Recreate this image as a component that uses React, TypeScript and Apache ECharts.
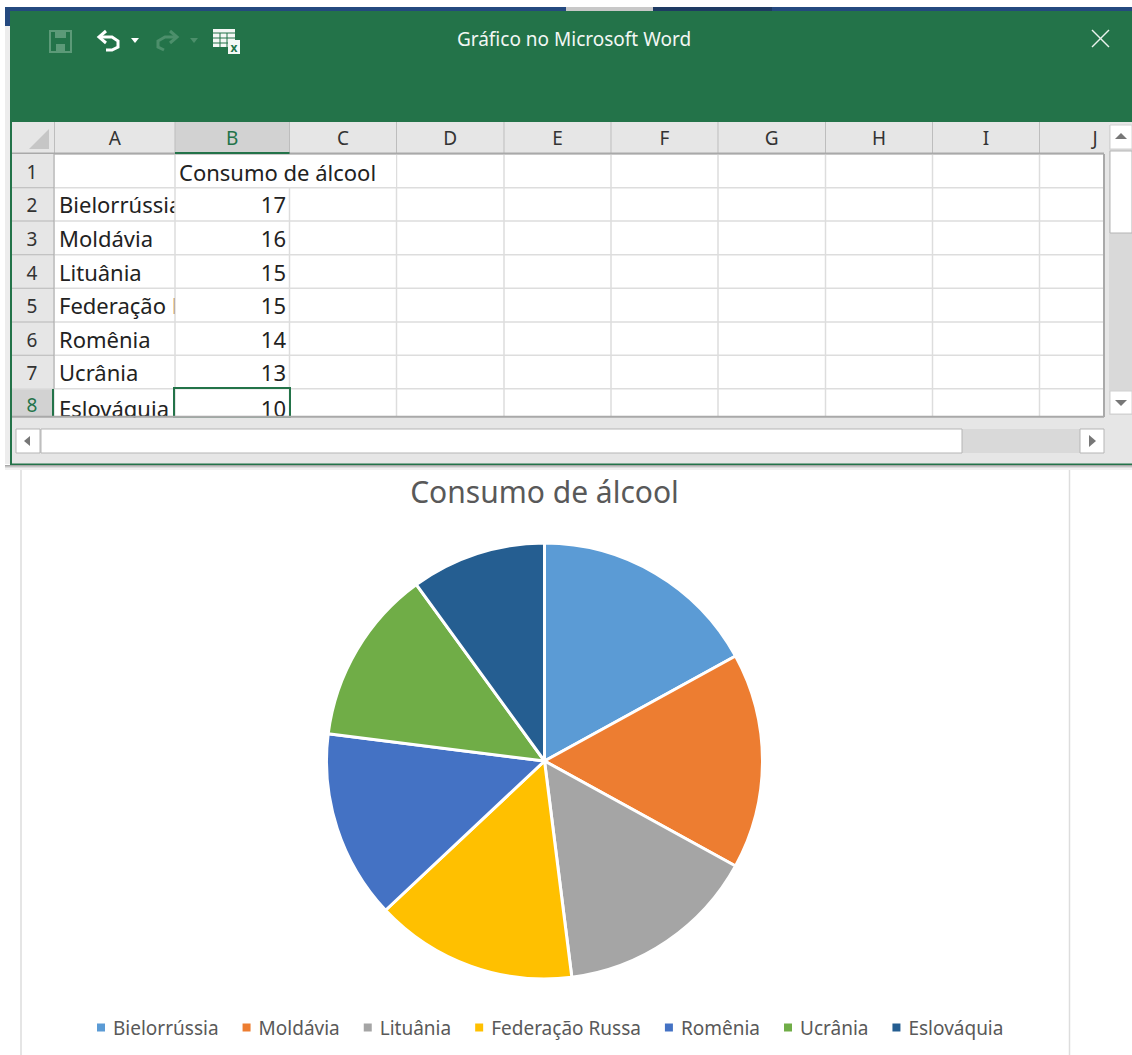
import React, { useEffect, useRef } from "react";
import * as echarts from "echarts";

const categories = ["Bielorrússia", "Moldávia", "Lituânia", "Federação Russa", "Romênia", "Ucrânia", "Eslováquia"];
const values = [17, 16, 15, 15, 14, 13, 10];
const colors = ["#5B9BD5", "#ED7D31", "#A5A5A5", "#FFC000", "#4472C4", "#70AD47", "#255E91"];
const seriesName = "Consumo de álcool";
const columnLabels = ["A", "B", "C", "D", "E", "F", "G", "H", "I", "J"];
const columnEdges = [54.5, 175, 289.5, 396.5, 504, 611, 718, 825.5, 932.5, 1039.5, 1104];
const rowEdges = [154, 187.7, 221, 254.7, 288.3, 322, 355.3, 388.7, 416.7];
const FONT = "'Noto Sans', 'Open Sans', sans-serif";
const GREEN = "#237349";

function buildGraphics() {
  const g: any[] = [];
  const rect = (x: number, y: number, w: number, h: number, fill: string, extra: any = {}) =>
    g.push({ type: "rect", shape: { x, y, width: w, height: h }, style: { fill, ...extra }, silent: true });
  const line = (x1: number, y1: number, x2: number, y2: number, stroke: string, lineWidth = 1) =>
    g.push({ type: "line", shape: { x1, y1, x2, y2 }, style: { stroke, lineWidth }, silent: true });
  const text = (x: number, y: number, t: string, fontSize: number, fill: string, align = "left", extra: any = {}) =>
    g.push({ type: "text", x, y, style: { text: t, fontSize, fontFamily: FONT, fill, align, verticalAlign: "middle", ...extra }, silent: true });

  // document page under the dialog
  line(21, 460, 21, 1055, "#DDDDDD", 1.5);
  line(1069.5, 460, 1069.5, 1055, "#DDDDDD", 1.5);

  // dialog shadow
  rect(5, 465, 1127, 1, "#A8A8A8");
  rect(5, 466, 1127, 1, "#C4C4C4");
  rect(5, 467, 1127, 1, "#DCDCDC");
  rect(5, 468, 1127, 2, "#F0F0F0");

  // word ribbon behind
  rect(5, 7, 1127, 5, "#24497F");
  rect(5, 7, 5, 19, "#24497F");
  rect(5, 26, 5, 438, "#EDEDED");
  rect(566, 7, 87, 5, "#C8C8C8");
  rect(653, 7, 119, 5, "#1E3A63");

  // dialog
  rect(10, 11, 1122, 453, "#E6E6E6");
  rect(10, 11, 1122, 111, GREEN);
  line(11, 122, 11, 464, GREEN, 2);
  line(10, 464, 1132, 464, GREEN, 2);

  // title bar
  text(574, 39, "Gráfico no Microsoft Word", 19, "#F2F7F4", "center");
  line(1092, 30, 1109, 47, "#EAF2ED", 1.5);
  line(1109, 30, 1092, 47, "#EAF2ED", 1.5);
  // save icon
  g.push({ type: "rect", shape: { x: 50, y: 31, width: 21, height: 21 }, style: { fill: "none", stroke: "#5C9A78", lineWidth: 2 }, silent: true });
  rect(55, 31, 11, 7, "#5C9A78");
  rect(56, 44, 9, 8, "#5C9A78");
  // undo
  g.push({ type: "polyline", shape: { points: [[100, 37], [112, 37], [118, 41], [118, 47], [112, 50], [106, 50]] }, style: { stroke: "#FFFFFF", lineWidth: 3, fill: "none" }, silent: true });
  g.push({ type: "polyline", shape: { points: [[106, 31], [99, 37], [106, 43]] }, style: { stroke: "#FFFFFF", lineWidth: 3, fill: "none" }, silent: true });
  g.push({ type: "polygon", shape: { points: [[131, 38], [139, 38], [135, 43]] }, style: { fill: "#FFFFFF" }, silent: true });
  // redo
  g.push({ type: "polyline", shape: { points: [[176, 37], [165, 37], [158, 41], [158, 47], [164, 50]] }, style: { stroke: "#4C8F6B", lineWidth: 3, fill: "none" }, silent: true });
  g.push({ type: "polyline", shape: { points: [[170, 31], [177, 37], [170, 43]] }, style: { stroke: "#4C8F6B", lineWidth: 3, fill: "none" }, silent: true });
  g.push({ type: "polygon", shape: { points: [[190, 38], [198, 38], [194, 43]] }, style: { fill: "#4C8F6B" }, silent: true });
  // sheet icon
  rect(213, 29, 22, 18, "#F4F8F5");
  [33, 38, 43].forEach((y) => line(213, y, 235, y, GREEN, 1));
  [220, 227].forEach((x) => line(x, 33, x, 47, GREEN, 1));
  rect(228, 40, 12, 14, "#F4F8F5");
  text(234, 47, "x", 12, GREEN, "center", { fontWeight: "bold" });

  // column headers
  rect(12, 122, 1092, 32, "#E6E6E6");
  rect(175, 122, 114.5, 30, "#D2D2D2");
  g.push({ type: "polygon", shape: { points: [[49, 129], [49, 149], [29, 149]] }, style: { fill: "#C6C6C6" }, silent: true });
  columnLabels.forEach((c, i) => {
    const x = i === 9 ? 1095 : (columnEdges[i] + columnEdges[i + 1]) / 2;
    text(x, 138, c, 19, i === 1 ? GREEN : "#333333", "center");
    line(columnEdges[i], 122, columnEdges[i], 154, "#BDBDBD", 1);
  });
  line(12, 153.5, 1104, 153.5, "#A9A9A9", 2);
  line(175, 153, 289.5, 153, GREEN, 2);

  // row headers
  rect(12, 154, 42, 263, "#E6E6E6");
  rect(12, 389, 41, 28, "#D2D2D2");

  // sheet body
  rect(55, 155, 1049, 262, "#FFFFFF");

  // cell contents
  categories.forEach((c, i) => {
    const y = (rowEdges[i + 1] + rowEdges[i + 2]) / 2 + (i === 6 ? 5 : 0);
    text(59, y, c, 22, "#222222");
  });
  // mask for overflow of col A into col B
  rect(175, 188, 115, 229, "#FFFFFF");
  values.forEach((v, i) => {
    const y = (rowEdges[i + 1] + rowEdges[i + 2]) / 2 + (i === 6 ? 5 : 0);
    text(286, y, String(v), 22, "#222222", "right");
  });

  // gridlines
  rowEdges.slice(1, 8).forEach((y) => line(12, y, 1104, y, "#DDDDDD", 1.5));
  columnEdges.slice(1, 10).forEach((x) => line(x, 155, x, 416, "#DDDDDD", 1.5));
  rowEdges.slice(1, 7).forEach((y) => line(12, y, 54, y, "#BDBDBD", 1));
  line(54, 154, 54, 389, "#A9A9A9", 1);

  // header text in B1 overflows into C1 with no cell line through it
  rect(176, 155, 220, 32, "#FFFFFF");
  text(179, 172, seriesName, 22, "#222222");

  // selected cell
  g.push({ type: "rect", shape: { x: 174, y: 388, width: 116, height: 30 }, style: { fill: "none", stroke: GREEN, lineWidth: 2 }, silent: true });
  line(53, 389, 53, 416, GREEN, 2);

  // frame bottom + footer
  rect(12, 417.5, 1120, 46, "#E6E6E6");
  line(12, 416.7, 1104, 416.7, "#A9A9A9", 2);
  line(1104, 154, 1104, 417, "#A9A9A9", 2);

  // horizontal scrollbar
  rect(16, 429, 1088, 24, "#D9D9D9");
  g.push({ type: "rect", shape: { x: 16, y: 429, width: 24, height: 24 }, style: { fill: "#FFFFFF", stroke: "#B5B5B5", lineWidth: 1 }, silent: true });
  g.push({ type: "rect", shape: { x: 41, y: 429, width: 921, height: 24 }, style: { fill: "#FFFFFF", stroke: "#B5B5B5", lineWidth: 1 }, silent: true });
  g.push({ type: "rect", shape: { x: 1080, y: 429, width: 24, height: 24 }, style: { fill: "#FFFFFF", stroke: "#B5B5B5", lineWidth: 1 }, silent: true });
  g.push({ type: "polygon", shape: { points: [[30, 436], [30, 446], [24, 441]] }, style: { fill: "#777777" }, silent: true });
  g.push({ type: "polygon", shape: { points: [[1089, 435], [1089, 447], [1096, 441]] }, style: { fill: "#777777" }, silent: true });

  // vertical scrollbar
  rect(1109, 125, 23, 290, "#D9D9D9");
  g.push({ type: "rect", shape: { x: 1110, y: 125, width: 22, height: 24 }, style: { fill: "#FFFFFF", stroke: "#D0D0D0", lineWidth: 1 }, silent: true });
  g.push({ type: "rect", shape: { x: 1110, y: 151, width: 22, height: 82 }, style: { fill: "#FFFFFF", stroke: "#B5B5B5", lineWidth: 1 }, silent: true });
  g.push({ type: "rect", shape: { x: 1110, y: 391, width: 22, height: 23 }, style: { fill: "#FFFFFF", stroke: "#D0D0D0", lineWidth: 1 }, silent: true });
  g.push({ type: "polygon", shape: { points: [[1115, 139], [1127, 139], [1121, 133]] }, style: { fill: "#777777" }, silent: true });
  g.push({ type: "polygon", shape: { points: [[1115, 400], [1127, 400], [1121, 406]] }, style: { fill: "#777777" }, silent: true });

  // row numbers on top
  for (let i = 0; i < 8; i++) {
    const y = (rowEdges[i] + rowEdges[i + 1]) / 2 + 1 + (i === 7 ? 1 : 0);
    g.push({ type: "text", x: 32, y, style: { text: String(i + 1), fontSize: 19, fontFamily: FONT, fill: i === 7 ? GREEN : "#333333", align: "center", verticalAlign: "middle" }, silent: true });
  }
  return g;
}

export default function App() {
  const ref = useRef<HTMLDivElement>(null);
  useEffect(() => {
    const chart = echarts.init(ref.current!, undefined, { renderer: "svg" });
    chart.setOption({
      animation: false,
      backgroundColor: "#FFFFFF",
      color: colors,
      title: {
        text: seriesName,
        left: 539.5,
        top: 486,
        textAlign: "center",
        textVerticalAlign: "middle",
        textStyle: { fontFamily: FONT, fontSize: 30, fontWeight: "normal", color: "#595959" },
      },
      legend: {
        left: 90,
        top: 1013,
        icon: "rect",
        itemWidth: 10,
        itemHeight: 10,
        itemGap: 22,
        textStyle: { fontFamily: FONT, fontSize: 19, color: "#595959", padding: [0, 0, 0, 2] },
        data: categories,
      },
      graphic: buildGraphics(),
      series: [
        {
          type: "pie",
          name: seriesName,
          center: [544.5, 761],
          radius: [0, 218],
          startAngle: 90,
          clockwise: true,
          label: { show: false },
          labelLine: { show: false },
          itemStyle: { borderColor: "#FFFFFF", borderWidth: 3 },
          data: categories.map((name, i) => ({ name, value: values[i] })),
        },
      ],
    });
    return () => chart.dispose();
  }, []);
  return <div ref={ref} style={{ position: "absolute", left: 0, top: 0, width: 1132, height: 1055 }} />;
}
